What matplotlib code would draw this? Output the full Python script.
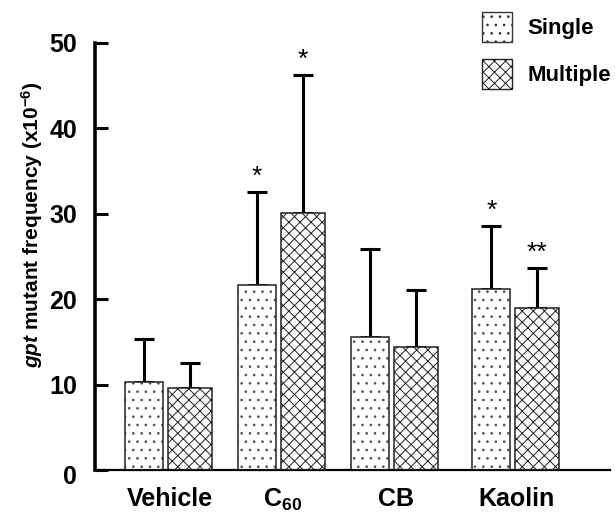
import matplotlib
matplotlib.use("Agg")
import matplotlib.pyplot as plt
from matplotlib.patches import Patch
from matplotlib.transforms import ScaledTranslation
import numpy as np

categories = ["Vehicle", "C$_{60}$", "CB", "Kaolin"]
single_mean = [10.3, 21.7, 15.6, 21.2]
single_err = [5.0, 10.9, 10.3, 7.4]
multiple_mean = [9.6, 30.1, 14.4, 19.0]
multiple_err = [2.9, 16.2, 6.7, 4.7]
single_marks = ["", "*", "", "*"]
multiple_marks = ["", "*", "", "**"]
yticks = [0, 10, 20, 30, 40, 50]

plt.rcParams['font.family'] = ['Liberation Sans', 'DejaVu Sans']
plt.rcParams['font.weight'] = 'bold'
plt.rcParams['mathtext.fontset'] = 'custom'
plt.rcParams['mathtext.rm'] = 'Liberation Sans:bold'
plt.rcParams['mathtext.it'] = 'Liberation Sans:bold:italic'
plt.rcParams['mathtext.bf'] = 'Liberation Sans:bold'
plt.rcParams['hatch.linewidth'] = 0.7

fig = plt.figure(figsize=(6.15, 5.12), dpi=100)
ax = fig.add_axes([95/615, 42/512, 515/615, 427/512])

pos = np.array([0, 1, 2, 3.07])
w_s, w_m = 0.336, 0.39
off_s, off_m = -0.19, 0.217

xs = pos + off_s
xm = pos + off_m
# hatch layers (grey dots, dark cross-hatch)
ax.bar(xs, single_mean, width=w_s, color='white', edgecolor='#555555',
       linewidth=0, hatch='..', zorder=2)
ax.bar(xm, multiple_mean, width=w_m, color='white', edgecolor='#222222',
       linewidth=0, hatch='xxx', zorder=2)
# outlines
ax.bar(xs, single_mean, width=w_s, fill=False, edgecolor='#222222',
       linewidth=1.1, zorder=3)
ax.bar(xm, multiple_mean, width=w_m, fill=False, edgecolor='#222222',
       linewidth=1.1, zorder=3)

zeros = np.zeros(len(pos))
ax.errorbar(xs, single_mean, yerr=[zeros, single_err], fmt='none',
            ecolor='black', elinewidth=2.2, capsize=7, capthick=2.2, zorder=1)
ax.errorbar(xm, multiple_mean, yerr=[zeros, multiple_err], fmt='none',
            ecolor='black', elinewidth=2.2, capsize=7, capthick=2.2, zorder=1)

for x, m, e, s in zip(xs, single_mean, single_err, single_marks):
    if s:
        ax.annotate(s, (x, m + e), xytext=(0, 2), textcoords='offset points',
                    ha='center', va='bottom', fontsize=19, fontweight='normal')
for x, m, e, s in zip(xm, multiple_mean, multiple_err, multiple_marks):
    if s:
        ax.annotate(s, (x, m + e), xytext=(0, 2), textcoords='offset points',
                    ha='center', va='bottom', fontsize=19, fontweight='normal')

ax.set_xlim(-0.624, 3.93)
ax.set_ylim(0, 50)
ax.set_yticks(yticks)
ax.set_yticklabels([str(t) for t in yticks], fontsize=18, fontweight='bold')
ax.set_xticks(pos + 0.035)
ax.set_xticklabels(categories, fontsize=18, fontweight='bold')
ax.tick_params(axis='y', direction='in', length=9, width=2.2, pad=13)
ax.tick_params(axis='x', length=0, pad=12)
lab0 = ax.get_yticklabels()[0]
lab0.set_transform(lab0.get_transform() + ScaledTranslation(0, -5/100, fig.dpi_scale_trans))

for s in ['top', 'right']:
    ax.spines[s].set_visible(False)
ax.spines['left'].set_linewidth(2.6)
ax.spines['bottom'].set_linewidth(1.6)

ax.set_ylabel(r"$\mathit{gpt}$ mutant frequency (x10$^{-6}$)", fontsize=15,
              fontweight='bold')
ax.yaxis.set_label_coords(-0.097, 0.574)

handles = [Patch(facecolor='white', edgecolor='#333333', hatch='..', linewidth=1.0),
           Patch(facecolor='white', edgecolor='#222222', hatch='xxx', linewidth=1.0)]
ax.legend(handles, ["Single", "Multiple"], loc='upper left',
          bbox_to_anchor=(482/615, 1 - 12/512), bbox_transform=fig.transFigure,
          frameon=False, borderpad=0, borderaxespad=0, handlelength=1.36,
          handleheight=1.7, labelspacing=0.77, handletextpad=0.7,
          prop={'size': 16, 'weight': 'bold'})

fig.savefig("out.png", dpi=100)
